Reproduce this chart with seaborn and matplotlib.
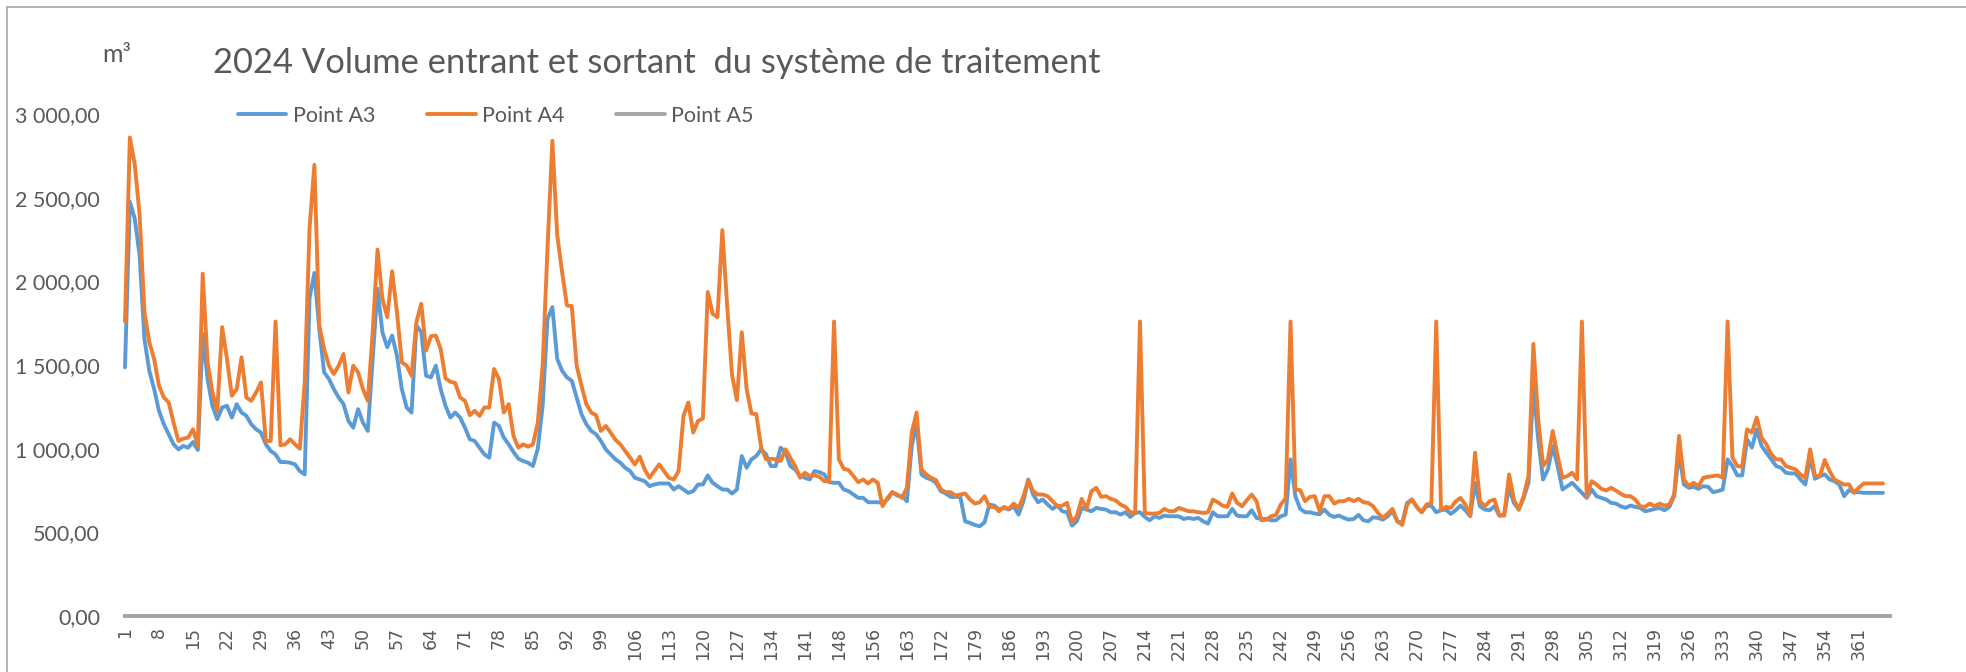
#!/usr/bin/env python3
"""
plot.py

Volumes journaliers 2024 entrant / sortant du système de traitement
(Points A3, A4, A5), courbe par jour de l'année.
"""
import matplotlib
matplotlib.use('Agg')
import matplotlib.pyplot as plt
from matplotlib.lines import Line2D
from matplotlib.ticker import FuncFormatter, FixedLocator
import pandas as pd
import seaborn as sns

# jours présents dans le fichier (3 jours manquants)
jours = [d for d in range(1, 367) if d not in (152, 167, 168)]

point_a3 = [
    1486, 2476, 2376, 2156, 1656, 1466, 1356, 1226, 1146, 1086,
    1026, 996, 1016, 1006, 1040, 992, 1686, 1416, 1256, 1176,
    1246, 1256, 1186, 1266, 1216, 1196, 1146, 1116, 1096, 1026,
    986, 966, 920, 920, 916, 906, 866, 846, 1900, 2050,
    1716, 1456, 1416, 1356, 1306, 1266, 1166, 1126, 1236, 1156,
    1106, 1536, 1956, 1696, 1606, 1676, 1556, 1356, 1246, 1216,
    1736, 1696, 1436, 1426, 1496, 1356, 1256, 1186, 1216, 1186,
    1126, 1056, 1046, 1006, 966, 946, 1156, 1136, 1066, 1026,
    980, 940, 926, 916, 896, 1000, 1256, 1776, 1846, 1536,
    1466, 1426, 1406, 1306, 1206, 1146, 1106, 1086, 1046, 996,
    966, 936, 916, 886, 866, 826, 816, 806, 776, 786,
    792, 792, 792, 756, 776, 756, 736, 746, 786, 786,
    840, 796, 776, 756, 756, 732, 756, 956, 886, 936,
    956, 996, 966, 896, 896, 1006, 980, 896, 876, 836,
    826, 816, 866, 860, 846, 800, 796, 796, 756, 746,
    726, 706, 706, 680, 680, 680, 676, 696, 740, 720,
    716, 686, 1016, 1146, 846, 826, 816, 796, 746, 732,
    712, 712, 712, 566, 556, 544, 536, 560, 666, 660,
    636, 646, 636, 656, 606, 686, 816, 726, 680, 696,
    666, 640, 660, 626, 620, 540, 566, 646, 636, 626,
    646, 640, 636, 620, 620, 606, 620, 592, 616, 620,
    592, 572, 596, 586, 600, 596, 596, 596, 580, 586,
    580, 586, 566, 552, 620, 596, 596, 596, 640, 600,
    596, 596, 632, 586, 580, 580, 572, 572, 596, 606,
    936, 716, 640, 620, 620, 612, 608, 636, 604, 592,
    600, 586, 576, 580, 604, 572, 566, 590, 586, 576,
    596, 626, 566, 556, 676, 696, 652, 620, 656, 660,
    620, 632, 636, 610, 632, 660, 632, 596, 796, 656,
    636, 632, 656, 600, 606, 766, 676, 636, 706, 796,
    1376, 1056, 816, 876, 1016, 896, 756, 776, 796, 766,
    736, 706, 756, 716, 706, 696, 676, 672, 656, 646,
    660, 652, 646, 626, 632, 640, 646, 632, 652, 716,
    976, 786, 766, 772, 760, 776, 772, 740, 746, 756,
    936, 896, 840, 840, 1056, 1006, 1116, 1016, 976, 936,
    896, 886, 856, 852, 852, 816, 786, 946, 820, 836,
    846, 816, 806, 786, 716, 752, 740, 740, 736, 736,
    736, 736, 736,
]

point_a4 = [
    1760, 2860, 2700, 2400, 1816, 1636, 1536, 1376, 1306, 1276,
    1156, 1046, 1060, 1066, 1116, 1016, 2046, 1516, 1336, 1226,
    1726, 1536, 1316, 1356, 1546, 1306, 1286, 1336, 1396, 1046,
    1046, 1760, 1020, 1026, 1056, 1026, 1000, 1396, 2316, 2696,
    1736, 1596, 1496, 1446, 1496, 1566, 1336, 1496, 1456, 1356,
    1286, 1696, 2190, 1896, 1786, 2060, 1816, 1516, 1496, 1436,
    1756, 1866, 1586, 1672, 1676, 1596, 1420, 1400, 1392, 1306,
    1286, 1200, 1226, 1196, 1246, 1246, 1476, 1416, 1216, 1266,
    1076, 1006, 1026, 1012, 1026, 1156, 1496, 2196, 2840, 2276,
    2056, 1856, 1852, 1496, 1376, 1266, 1216, 1200, 1106, 1136,
    1096, 1052, 1026, 986, 946, 906, 952, 876, 826, 866,
    906, 866, 826, 816, 866, 1196, 1276, 1096, 1166, 1180,
    1936, 1806, 1786, 2306, 1850, 1440, 1290, 1696, 1356, 1210,
    1206, 1006, 936, 940, 936, 926, 996, 946, 896, 826,
    856, 836, 840, 832, 806, 806, 1760, 936, 880, 872,
    836, 800, 816, 792, 816, 796, 656, 706, 740, 726,
    706, 766, 1096, 1216, 876, 846, 826, 812, 756, 740,
    740, 720, 726, 732, 696, 672, 680, 716, 652, 652,
    626, 652, 640, 672, 646, 716, 812, 746, 726, 726,
    716, 686, 656, 660, 676, 560, 596, 700, 640, 746,
    766, 712, 716, 700, 690, 666, 652, 620, 616, 1760,
    616, 612, 612, 616, 640, 626, 626, 646, 636, 626,
    626, 620, 616, 620, 696, 680, 660, 652, 732, 676,
    656, 692, 726, 686, 572, 576, 596, 604, 666, 704,
    1760, 756, 752, 686, 712, 716, 626, 716, 716, 672,
    686, 686, 700, 686, 700, 680, 676, 656, 616, 586,
    612, 640, 566, 544, 666, 696, 652, 620, 666, 676,
    1760, 632, 652, 646, 684, 706, 666, 600, 976, 686,
    656, 686, 696, 600, 600, 846, 696, 636, 716, 836,
    1626, 1176, 896, 936, 1106, 956, 826, 836, 856, 816,
    1760, 712, 806, 786, 760, 750, 766, 750, 730, 716,
    716, 696, 656, 652, 672, 656, 672, 660, 666, 726,
    1076, 816, 776, 796, 776, 826, 832, 836, 840, 826,
    1760, 946, 896, 892, 1116, 1096, 1186, 1066, 1026, 966,
    936, 936, 896, 886, 876, 846, 826, 996, 836, 836,
    932, 866, 816, 800, 786, 786, 736, 766, 792, 792,
    792, 792, 792,
]

point_a5 = [0] * len(jours)

series = ['Point A3', 'Point A4', 'Point A5']
couleurs = ['#5B9BD5', '#ED7D31', '#A5A5A5']
titre = '2024 Volume entrant et sortant  du système de traitement'
y_ticks = [0, 500, 1000, 1500, 2000, 2500, 3000]

GRIS_TXT = '#595959'
W, H = 1966, 672


def fmt_fr(v, _pos=None):
    """3000 -> '3 000,00'"""
    return f"{v:,.2f}".replace(',', ' ').replace('.', ',')


def main():
    sns.set_theme(style='white')
    plt.rcParams['font.family'] = ['Lato', 'DejaVu Sans']

    n = len(jours)
    df = pd.DataFrame({
        'pos': list(range(n)) * 3,
        'volume': point_a3 + point_a4 + point_a5,
        'point': [s for s in series for _ in range(n)],
    })

    fig = plt.figure(figsize=(W / 100, H / 100), dpi=100)
    ax = fig.add_axes([125 / W, (H - 616) / H, (1890 - 125) / W, (616 - 114) / H])

    sns.lineplot(data=df, x='pos', y='volume', hue='point', hue_order=series,
                 palette=couleurs, linewidth=2.8, sort=False, legend=False,
                 ax=ax, clip_on=False)

    ax.set_xlim(0, n - 1 + 7 / 4.856)
    ax.set_ylim(0, 3000)
    ax.set_xlabel('')
    ax.set_ylabel('')

    pos_ticks = list(range(0, n, 7))
    ax.xaxis.set_major_locator(FixedLocator(pos_ticks))
    ax.set_xticklabels([str(jours[i]) for i in pos_ticks], rotation=90,
                       fontsize=12.5, color=GRIS_TXT, family='DejaVu Sans')
    ax.yaxis.set_major_locator(FixedLocator(y_ticks))
    ax.yaxis.set_major_formatter(FuncFormatter(fmt_fr))
    ax.tick_params(axis='y', labelsize=15.5, labelcolor=GRIS_TXT, length=0, pad=18)
    ax.tick_params(axis='x', length=0, pad=8)

    for s in ['top', 'right', 'left']:
        ax.spines[s].set_visible(False)
    ax.spines['bottom'].set_color('#A5A5A5')
    ax.spines['bottom'].set_linewidth(2.8)
    ax.grid(False)

    # légende en haut
    handles = [Line2D([0], [0], color=c, lw=2.8) for c in couleurs]
    leg = fig.legend(handles, series, loc='center left',
                     bbox_to_anchor=(238 / W, 1 - 116 / H), ncol=3,
                     frameon=False, fontsize=15.5, handlelength=2.25,
                     handletextpad=0.3, columnspacing=2.4,
                     borderpad=0, borderaxespad=0)
    for t in leg.get_texts():
        t.set_color(GRIS_TXT)

    fig.text(213 / W, 1 - 63 / H, titre, fontsize=24.8, color=GRIS_TXT,
             va='center', ha='left')
    fig.text(102 / W, 1 - 54 / H, 'm³', fontsize=18, color=GRIS_TXT,
             va='center', ha='left')

    # cadre du graphique (gauche + haut)
    fig.add_artist(Line2D([7 / W, 7 / W], [0, 1 - 7 / H], color='#A6A6A6',
                          lw=1.2, transform=fig.transFigure))
    fig.add_artist(Line2D([7 / W, 1], [1 - 7 / H, 1 - 7 / H], color='#A6A6A6',
                          lw=1.2, transform=fig.transFigure))

    fig.savefig('out.png', dpi=100)
    plt.close(fig)


if __name__ == '__main__':
    main()
